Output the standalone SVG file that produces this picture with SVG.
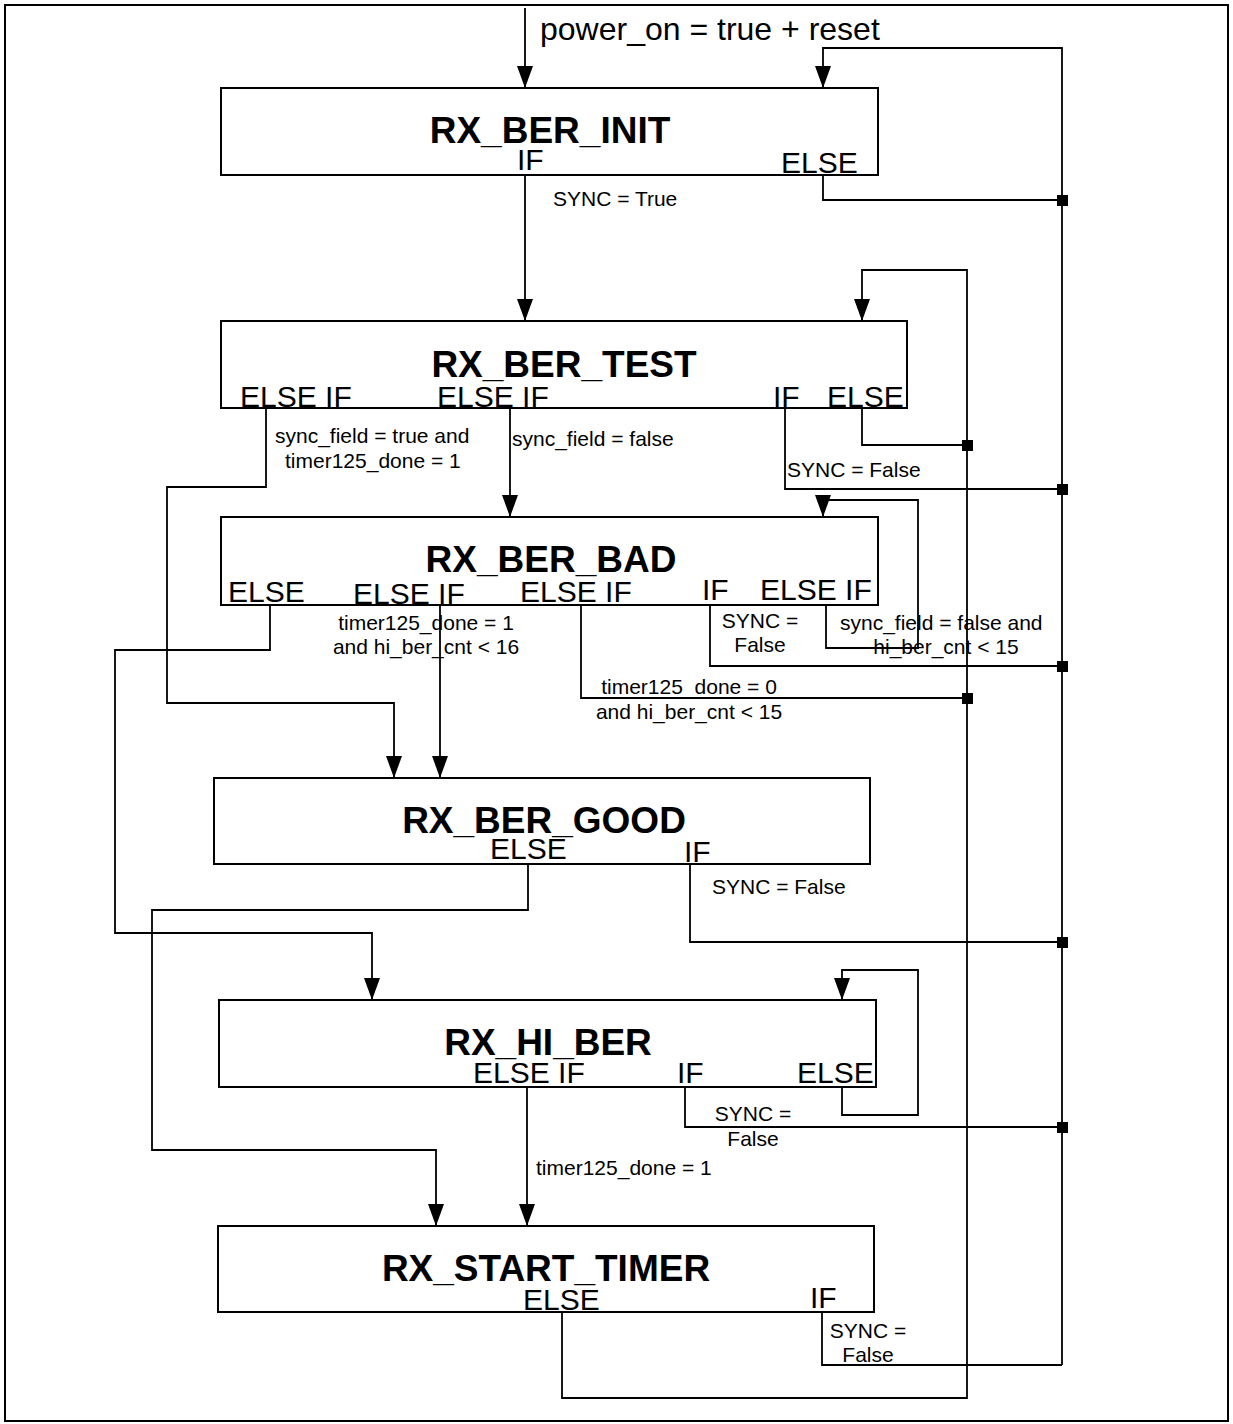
<svg xmlns="http://www.w3.org/2000/svg" width="1233" height="1424" viewBox="0 0 1233 1424">
<defs>
<style>
.frame{fill:#fff;stroke:#000;stroke-width:2}
.box{fill:#fff;stroke:#000;stroke-width:2}
.title{font-family:"Liberation Sans",Arial,sans-serif;font-weight:bold;font-size:37px;text-anchor:middle;fill:#000}
.lbl{font-family:"Liberation Sans",Arial,sans-serif;font-size:30px;fill:#000}
.sm{font-family:"Liberation Sans",Arial,sans-serif;font-size:21px;fill:#000}
.smc{font-family:"Liberation Sans",Arial,sans-serif;font-size:21px;fill:#000;text-anchor:middle}
.top{font-family:"Liberation Sans",Arial,sans-serif;font-size:32px;fill:#000}
.ln{fill:none;stroke:#000;stroke-width:1.8}
.arr{fill:none;stroke:#000;stroke-width:1.8;marker-end:url(#ah)}
.dot{fill:#000}
</style>
<marker id="ah" markerUnits="userSpaceOnUse" markerWidth="22" markerHeight="18" refX="22" refY="9" orient="auto">
<path d="M0,1 L22,9 L0,17 z" fill="#000"/>
</marker>
</defs>
<rect class="frame" x="5" y="5" width="1223" height="1416"/>

<g id="connectors">
<path class="arr" d="M525,8 L525,88"/>
<path class="arr" d="M1062,1365 L1062,48 L823,48 L823,88"/>
<path class="ln" d="M823,175 L823,200 L1062,200"/>
<path class="arr" d="M525,175 L525,321"/>
<path class="arr" d="M266,408 L266,487 L167,487 L167,703 L394,703 L394,778"/>
<path class="arr" d="M510,408 L510,517"/>
<path class="ln" d="M785,408 L785,489 L1062,489"/>
<path class="ln" d="M862,408 L862,445 L967,445"/>
<path class="arr" d="M562,1312 L562,1398 L967,1398 L967,270 L862,270 L862,321"/>
<path class="arr" d="M826,605 L826,648 L918,648 L918,500 L823,500 L823,517"/>
<path class="ln" d="M710,605 L710,666 L1062,666"/>
<path class="ln" d="M581,605 L581,698 L967,698"/>
<path class="arr" d="M440,605 L440,778"/>
<path class="arr" d="M270,605 L270,650 L115,650 L115,933 L372,933 L372,1000"/>
<path class="arr" d="M528,864 L528,910 L152,910 L152,1150 L436,1150 L436,1226"/>
<path class="ln" d="M690,864 L690,942 L1062,942"/>
<path class="arr" d="M842,1087 L842,1115 L918,1115 L918,970 L842,970 L842,1000"/>
<path class="ln" d="M685,1087 L685,1127 L1062,1127"/>
<path class="arr" d="M527,1087 L527,1226"/>
<path class="ln" d="M822,1312 L822,1365 L1062,1365"/>
<rect class="dot" x="1057" y="195" width="11" height="11"/>
<rect class="dot" x="1057" y="484" width="11" height="11"/>
<rect class="dot" x="1057" y="661" width="11" height="11"/>
<rect class="dot" x="1057" y="937" width="11" height="11"/>
<rect class="dot" x="1057" y="1122" width="11" height="11"/>
<rect class="dot" x="962" y="440" width="11" height="11"/>
<rect class="dot" x="962" y="693" width="11" height="11"/>
<text class="top" x="540" y="40">power_on = true + reset</text>
<text class="sm" x="553" y="206">SYNC = True</text>
<text class="sm" x="275" y="443">sync_field = true and</text>
<text class="sm" x="285" y="468">timer125_done = 1</text>
<text class="sm" x="512" y="446">sync_field = false</text>
<text class="sm" x="787" y="477">SYNC = False</text>
<text class="smc" x="426" y="630">timer125_done = 1</text>
<text class="smc" x="426" y="654">and hi_ber_cnt &lt; 16</text>
<text class="smc" x="689" y="694">timer125_done = 0</text>
<text class="smc" x="689" y="719">and hi_ber_cnt &lt; 15</text>
<text class="smc" x="760" y="628">SYNC =</text>
<text class="smc" x="760" y="652">False</text>
<text class="sm" x="840" y="630">sync_field = false  and</text>
<text class="smc" x="946" y="654">hi_ber_cnt &lt; 15</text>
<text class="sm" x="712" y="894">SYNC = False</text>
<text class="smc" x="753" y="1121">SYNC =</text>
<text class="smc" x="753" y="1146">False</text>
<text class="sm" x="536" y="1175">timer125_done = 1</text>
<text class="smc" x="868" y="1338">SYNC =</text>
<text class="smc" x="868" y="1362">False</text>
</g>

<g id="rx_ber_init">
<rect class="box" x="221" y="88" width="657" height="87"/>
<text class="title" x="550" y="143">RX_BER_INIT</text>
<text class="lbl" x="517" y="170">IF</text>
<text class="lbl" x="781" y="173">ELSE</text>
</g>

<g id="rx_ber_test">
<rect class="box" x="221" y="321" width="686" height="87"/>
<text class="title" x="564" y="377">RX_BER_TEST</text>
<text class="lbl" x="240" y="407">ELSE IF</text>
<text class="lbl" x="437" y="407">ELSE IF</text>
<text class="lbl" x="773" y="407">IF</text>
<text class="lbl" x="827" y="407">ELSE</text>
</g>

<g id="rx_ber_bad">
<rect class="box" x="221" y="517" width="657" height="88"/>
<text class="title" x="551" y="572">RX_BER_BAD</text>
<text class="lbl" x="228" y="602">ELSE</text>
<text class="lbl" x="353" y="604">ELSE IF</text>
<text class="lbl" x="520" y="602">ELSE IF</text>
<text class="lbl" x="702" y="600">IF</text>
<text class="lbl" x="760" y="600">ELSE IF</text>
</g>

<g id="rx_ber_good">
<rect class="box" x="214" y="778" width="656" height="86"/>
<text class="title" x="544" y="833">RX_BER_GOOD</text>
<text class="lbl" x="490" y="859">ELSE</text>
<text class="lbl" x="684" y="862">IF</text>
</g>

<g id="rx_hi_ber">
<rect class="box" x="219" y="1000" width="657" height="87"/>
<text class="title" x="548" y="1055">RX_HI_BER</text>
<text class="lbl" x="473" y="1083">ELSE IF</text>
<text class="lbl" x="677" y="1083">IF</text>
<text class="lbl" x="797" y="1083">ELSE</text>
</g>

<g id="rx_start_timer">
<rect class="box" x="218" y="1226" width="656" height="86"/>
<text class="title" x="546" y="1281">RX_START_TIMER</text>
<text class="lbl" x="523" y="1310">ELSE</text>
<text class="lbl" x="810" y="1308">IF</text>
</g>
</svg>
